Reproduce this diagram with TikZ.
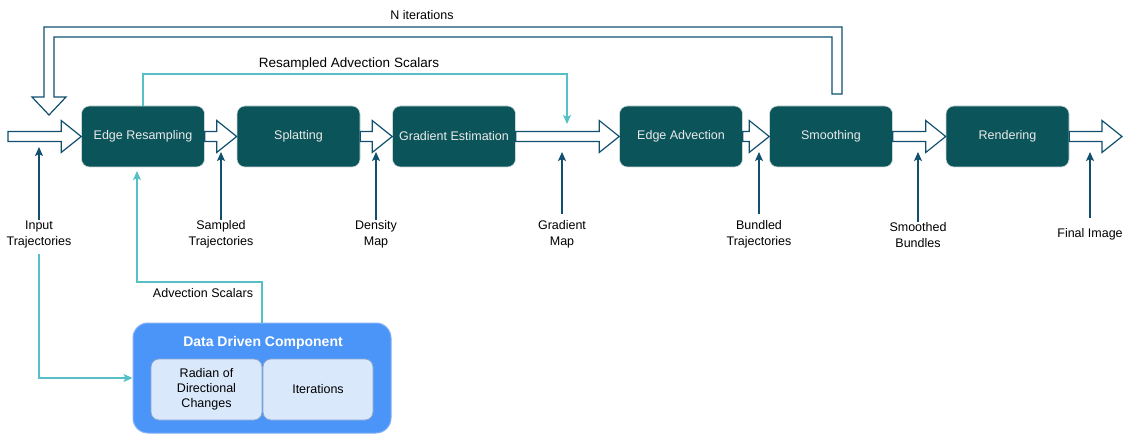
\documentclass[tikz,border=0pt]{standalone}
\usepackage{fontspec}
\setmainfont{Liberation Sans}
\usetikzlibrary{calc,arrows.meta}

\definecolor{boxfill}{HTML}{0B5459}
\definecolor{boxline}{HTML}{C9D8DA}
\definecolor{flowline}{HTML}{10506E}
\definecolor{scalarline}{HTML}{55C1C6}
\definecolor{ddfill}{HTML}{4C95F8}
\definecolor{ddline}{HTML}{80B1F6}
\definecolor{paramfill}{HTML}{DAE8FC}
\definecolor{paramline}{HTML}{8AA6CF}

% draws a hollow block arrow from #1 to #2 along y=const
\newcommand\blockflow[2]{%
  \draw[blockarr] ($(#1)+(0,-5)$) -- ($(#2)+(-20,-5)$) -- ($(#2)+(-20,-16)$)
    -- (#2) -- ($(#2)+(-20,16)$) -- ($(#2)+(-20,5)$) -- ($(#1)+(0,5)$) -- cycle;}

\tikzset{
  stage/.style={draw=boxline, line width=0.6pt, fill=boxfill, rounded corners=8pt,
    minimum width=123pt, minimum height=61pt, text=white!92!black,
    font=\fontsize{12.5}{15}\selectfont, inner sep=0pt},
  blockarr/.style={draw=flowline, fill=white, line width=1.2pt, line join=miter},
  lbl/.style={align=center, font=\fontsize{12.5}{16}\selectfont, inner sep=2pt},
  uparr/.style={draw=flowline, line width=1.2pt,
    -{Stealth[length=9pt,width=8pt,inset=2pt]}},
  scalar/.style={draw=scalarline, line width=1.2pt,
    -{Stealth[length=9pt,width=8pt,inset=2pt]}},
  param/.style={draw=paramline, line width=0.8pt, fill=paramfill, rounded corners=8pt,
    minimum width=111pt, minimum height=61pt, align=center,
    font=\fontsize{12.5}{15}\selectfont, inner sep=0pt},
}

\begin{document}
\begin{tikzpicture}[x=1pt, y=-1pt]
\useasboundingbox (0,0) rectangle (1126,435);

% pipeline stages
\node[stage] (er) at (143,136.5) {Edge Resampling};
\node[stage] (sp) at (298.5,136.5) {Splatting};
\node[stage] (ge) at (454,136.5) {Gradient Estimation};
\node[stage] (ea) at (681,136.5) {Edge Advection};
\node[stage] (sm) at (831,136.5) {Smoothing};
\node[stage] (rn) at (1007.5,136.5) {Rendering};

% entry and exit of the pipeline
\coordinate (inl) at (8,136.5);
\coordinate (outr) at (1122,136.5);

% hollow flow arrows between stages
\blockflow{inl}{er.west}
\blockflow{er.east}{sp.west}
\blockflow{sp.east}{ge.west}
\blockflow{ge.east}{ea.west}
\blockflow{ea.east}{sm.west}
\blockflow{sm.east}{rn.west}
\blockflow{rn.east}{outr}

% iteration loop back to the start
\draw[blockarr] (832,94) -- (832,37) -- (54,37) -- (54,97) -- (66,97) -- (49,115)
  -- (32,97) -- (44,97) -- (44,27) -- (842,27) -- (842,94) -- cycle;
\node[lbl] (nit) at (422,15) {N iterations};

% intermediate data labels
\node[lbl] (l1) at (39,234) {Input\\Trajectories};
\node[lbl] (l2) at (221,234) {Sampled\\Trajectories};
\node[lbl] (l3) at (376,234) {Density\\Map};
\node[lbl] (l4) at (562,234) {Gradient\\Map};
\node[lbl] (l5) at (759,234) {Bundled\\Trajectories};
\node[lbl] (l6) at (918,235) {Smoothed\\Bundles};
\node[lbl] (l7) at (1090,234) {Final Image};

\coordinate (t1) at (39,147);
\coordinate (t2) at (221,152);
\coordinate (t3) at (376,152);
\coordinate (t4) at (562,152);
\coordinate (t5) at (759,152);
\coordinate (t6) at (918,152);
\coordinate (t7) at (1090,152);

\draw[uparr] ($(l1.north)+(0,2)$) -- (t1);
\draw[uparr] ($(l2.north)+(0,2)$) -- (t2);
\draw[uparr] ($(l3.north)+(0,2)$) -- (t3);
\draw[uparr] ($(l4.north)+(0,-4)$) -- (t4);
\draw[uparr] ($(l5.north)+(0,-4)$) -- (t5);
\draw[uparr] ($(l6.north)+(0,2)$) -- (t6);
\draw[uparr] ($(l7.north)+(0,-8)$) -- (t7);

% data driven component
\node[draw=ddline, line width=1pt, fill=ddfill, rounded corners=15pt,
  minimum width=258pt, minimum height=110pt, inner sep=0pt] (dd) at (262,378) {};
\node[text=white, font=\bfseries\fontsize{14}{16}\selectfont] (ddt) at (263,343)
  {Data Driven Component};
\node[param] (rad) at (206.5,389.5) {Radian of\\Directional\\Changes};
\node[param, minimum width=110pt] (itr) at (318,389.5) {Iterations};

% scalar feeds
\coordinate (rstip) at (567,124);
\draw[scalar] (er.north) |- (567,74) -- (rstip);
\node[lbl, font=\fontsize{13.5}{16}\selectfont] (rsl) at (349,64)
  {Resampled Advection Scalars};

\coordinate (advtip) at (137,171);
\draw[scalar] (dd.north) |- (137,282) -- (advtip);
\node[lbl] (asl) at (203,293) {Advection Scalars};

\draw[scalar] ($(l1.south)+(0,4)$) |- (dd.west);
\end{tikzpicture}
\end{document}
